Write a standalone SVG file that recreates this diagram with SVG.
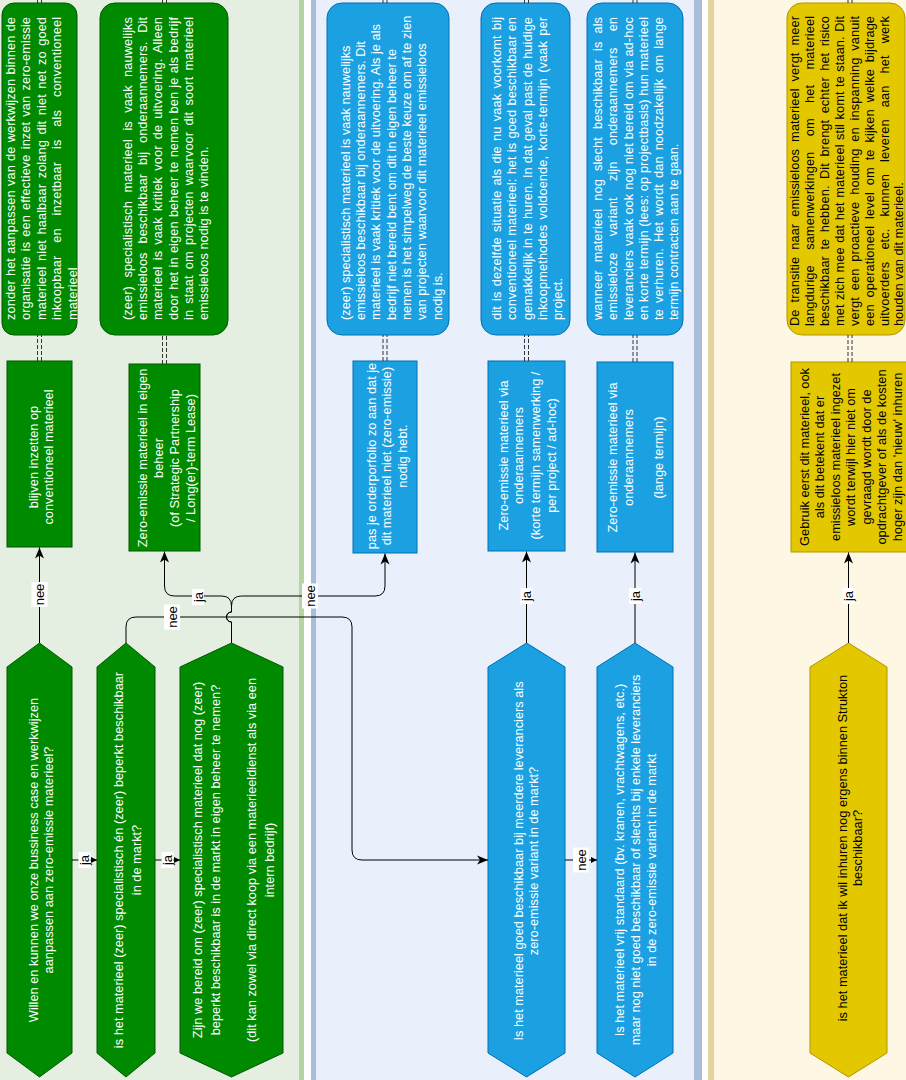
<svg xmlns="http://www.w3.org/2000/svg" width="906" height="1080" viewBox="0 0 906 1080">
<defs>
<style>
.t{font-family:"Liberation Sans",Arial,Helvetica,sans-serif;font-size:12.8px;dominant-baseline:central}
.w{fill:#fff}.k{fill:#000}.c{text-anchor:middle}.s{text-anchor:start}
.g{fill:#008a00;stroke:#005700;stroke-width:1}
.b{fill:#1ba1e2;stroke:#006eaf;stroke-width:1}
.y{fill:#e3c800;stroke:#b09500;stroke-width:1}
.e{fill:none;stroke:#000;stroke-width:1}
.d{fill:none;stroke:#333;stroke-width:1;stroke-dasharray:4 2}
.lb{fill:#fff}
.lt{font-family:"Liberation Sans",Arial,Helvetica,sans-serif;font-size:13px;fill:#000;text-anchor:middle;dominant-baseline:central}
</style>
<marker id="a" markerWidth="12" markerHeight="10" refX="11" refY="5" orient="auto" markerUnits="userSpaceOnUse"><path d="M0,0.5 L11,5 L0,9.5 L3,5 Z" fill="#000"/></marker>
<marker id="sa" markerWidth="7" markerHeight="7" refX="6" refY="3.5" orient="auto" markerUnits="userSpaceOnUse"><path d="M0,0.5 L6,3.5 L0,6.5 Z" fill="#000"/></marker>
</defs>

<g id="lanes">
<rect x="-1" y="-1" width="300" height="1082" fill="#e5efe1"/>
<rect x="299" y="-1" width="5" height="1082" fill="#b6d4a1"/>
<rect x="304" y="-1" width="7" height="1082" fill="#ffffff"/>
<rect x="311" y="-1" width="5" height="1082" fill="#a9bddb"/>
<rect x="316" y="-1" width="378" height="1082" fill="#e9f0fc"/>
<rect x="694" y="-1" width="8" height="1082" fill="#a9bddb"/>
<rect x="702" y="-1" width="6" height="1082" fill="#ffffff"/>
<rect x="708" y="-1" width="6" height="1082" fill="#e3d49c"/>
<rect x="714" y="-1" width="193" height="1082" fill="#fef7e4"/>
</g>

<g id="note1">
<rect class="g" x="2" y="3" width="75" height="332" rx="12"/>
<text class="t w s" transform="translate(10,320) rotate(-90)" textLength="303" lengthAdjust="spacing" style="word-spacing:0.5px">zonder het aanpassen van de werkwijzen binnen de</text>
<text class="t w s" transform="translate(25.5,320) rotate(-90)" textLength="303" lengthAdjust="spacing" style="word-spacing:1.5px">organisatie is een effectieve inzet van zero-emissie</text>
<text class="t w s" transform="translate(41,320) rotate(-90)" textLength="303" lengthAdjust="spacing" style="word-spacing:1.9px">materieel niet haalbaar zolang dit niet net zo goed</text>
<text class="t w s" transform="translate(56.5,320) rotate(-90)" textLength="303" lengthAdjust="spacing" style="word-spacing:9.3px">inkoopbaar en inzetbaar is als conventioneel</text>
<text class="t w s" transform="translate(72,320) rotate(-90)">materieel</text>
</g>

<g id="note2">
<rect class="g" x="100" y="3" width="128" height="332" rx="15"/>
<text class="t w s" transform="translate(127,320) rotate(-90)" textLength="303" lengthAdjust="spacing" style="word-spacing:4.8px">(zeer) specialistisch materieel is vaak nauwelijks</text>
<text class="t w s" transform="translate(142.5,320) rotate(-90)" textLength="303" lengthAdjust="spacing" style="word-spacing:5.3px">emissieloos beschikbaar bij onderaannemers. Dit</text>
<text class="t w s" transform="translate(157.5,320) rotate(-90)" textLength="303" lengthAdjust="spacing" style="word-spacing:2.5px">materieel is vaak kritiek voor de uitvoering. Alleen</text>
<text class="t w s" transform="translate(173,320) rotate(-90)" textLength="303" lengthAdjust="spacing" style="word-spacing:0.6px">door het in eigen beheer te nemen ben je als bedrijf</text>
<text class="t w s" transform="translate(188,320) rotate(-90)" textLength="303" lengthAdjust="spacing" style="word-spacing:2.6px">in staat om projecten waarvoor dit soort materieel</text>
<text class="t w s" transform="translate(203.5,320) rotate(-90)">emissieloos nodig is te vinden.</text>
</g>

<g id="note3">
<rect class="b" x="327" y="3" width="122" height="332" rx="15"/>
<text class="t w s" transform="translate(345,320) rotate(-90)">(zeer) specialistisch materieel is vaak nauwelijks</text>
<text class="t w s" transform="translate(360,320) rotate(-90)">emissieloos beschikbaar bij onderaannemers. Dit</text>
<text class="t w s" transform="translate(375.5,320) rotate(-90)">materieel is vaak kritiek voor de uitvoering. Als je als</text>
<text class="t w s" transform="translate(391,320) rotate(-90)">bedrijf niet bereid bent om dit in eigen beheer te</text>
<text class="t w s" transform="translate(406,320) rotate(-90)">nemen is het simpelweg de beste keuze om af te zien</text>
<text class="t w s" transform="translate(421.5,320) rotate(-90)">van projecten waarvoor dit materieel emissieloos</text>
<text class="t w s" transform="translate(437,320) rotate(-90)">nodig is.</text>
</g>

<g id="note4">
<rect class="b" x="481" y="3" width="89" height="332" rx="15"/>
<text class="t w s" transform="translate(496,320) rotate(-90)" textLength="303" lengthAdjust="spacing" style="word-spacing:1.6px">dit is dezelfde situatie als die nu vaak voorkomt bij</text>
<text class="t w s" transform="translate(511.5,320) rotate(-90)" textLength="303" lengthAdjust="spacing" style="word-spacing:0.5px">conventioneel materieel: het is goed beschikbaar en</text>
<text class="t w s" transform="translate(527,320) rotate(-90)" textLength="303" lengthAdjust="spacing" style="word-spacing:0.4px">gemakkelijk in te huren. In dat geval past de huidige</text>
<text class="t w s" transform="translate(542,320) rotate(-90)" textLength="303" lengthAdjust="spacing" style="word-spacing:1.7px">inkoopmethodes voldoende, korte-termijn (vaak per</text>
<text class="t w s" transform="translate(557,320) rotate(-90)">project.</text>
</g>

<g id="note5">
<rect class="b" x="587" y="3" width="96" height="332" rx="15"/>
<text class="t w s" transform="translate(597,320) rotate(-90)" textLength="303" lengthAdjust="spacing" style="word-spacing:4.4px">wanneer materieel nog slecht beschikbaar is als</text>
<text class="t w s" transform="translate(612.5,320) rotate(-90)" textLength="303" lengthAdjust="spacing" style="word-spacing:12.7px">emissieloze variant zijn onderaannemers en</text>
<text class="t w s" transform="translate(628,320) rotate(-90)" textLength="303" lengthAdjust="spacing" style="word-spacing:0.3px">leveranciers vaak ook nog niet bereid om via ad-hoc</text>
<text class="t w s" transform="translate(643,320) rotate(-90)" textLength="303" lengthAdjust="spacing">en korte termijn (lees: op projectbasis) hun materieel</text>
<text class="t w s" transform="translate(658.5,320) rotate(-90)" textLength="303" lengthAdjust="spacing" style="word-spacing:2.4px">te verhuren. Het wordt dan noodzakelijk om lange</text>
<text class="t w s" transform="translate(673,320) rotate(-90)">termijn contracten aan te gaan.</text>
</g>

<g id="note6">
<rect class="y" x="787" y="3" width="118" height="332" rx="15"/>
<text class="t k s" transform="translate(794,326) rotate(-90)" textLength="310" lengthAdjust="spacing" style="word-spacing:3.4px">De transitie naar emissieloos materieel vergt meer</text>
<text class="t k s" transform="translate(809,326) rotate(-90)" textLength="310" lengthAdjust="spacing" style="word-spacing:11.7px">langdurige samenwerkingen om het materieel</text>
<text class="t k s" transform="translate(824,326) rotate(-90)" textLength="310" lengthAdjust="spacing" style="word-spacing:2.8px">beschikbaar te hebben. Dit brengt echter het risico</text>
<text class="t k s" transform="translate(839,326) rotate(-90)" textLength="310" lengthAdjust="spacing" style="word-spacing:0.8px">met zich mee dat het materieel stil komt te staan. Dit</text>
<text class="t k s" transform="translate(854,326) rotate(-90)" textLength="310" lengthAdjust="spacing" style="word-spacing:3.2px">vergt een proactieve houding en inspanning vanuit</text>
<text class="t k s" transform="translate(869,326) rotate(-90)" textLength="310" lengthAdjust="spacing" style="word-spacing:3.3px">een operationeel level om te kijken welke bijdrage</text>
<text class="t k s" transform="translate(884,326) rotate(-90)" textLength="310" lengthAdjust="spacing" style="word-spacing:8.4px">uitvoerders etc. kunnen leveren aan het werk</text>
<text class="t k s" transform="translate(898.5,326) rotate(-90)">houden van dit materieel.</text>
</g>

<g id="rect-conventioneel">
<rect class="g" x="7" y="361" width="65" height="186"/>
<text class="t w c" transform="translate(33,457) rotate(-90)">blijven inzetten op</text>
<text class="t w c" transform="translate(48,457) rotate(-90)">conventioneel materieel</text>
</g>

<g id="rect-eigen-beheer">
<rect class="g" x="129" y="364" width="71" height="187"/>
<text class="t w c" transform="translate(142,458) rotate(-90)">Zero-emissie materieel in eigen</text>
<text class="t w c" transform="translate(158,458) rotate(-90)">beheer</text>
<text class="t w c" transform="translate(174,458) rotate(-90)">(of Strategic Partnership</text>
<text class="t w c" transform="translate(190,458) rotate(-90)">/ Long(er)-term Lease)</text>
</g>

<g id="rect-orderportfolio">
<rect class="b" x="353" y="361" width="64" height="192"/>
<text class="t w c" transform="translate(371,456) rotate(-90)">pas je orderporfolio zo aan dat je</text>
<text class="t w c" transform="translate(386.5,456) rotate(-90)">dit materieel niet (zero-emissie)</text>
<text class="t w c" transform="translate(402,456) rotate(-90)">nodig hebt.</text>
</g>

<g id="rect-onderaannemers-kort">
<rect class="b" x="488" y="361" width="77" height="190"/>
<text class="t w c" transform="translate(503,455.5) rotate(-90)">Zero-emissie materieel via</text>
<text class="t w c" transform="translate(518.5,455.5) rotate(-90)">onderaannemers</text>
<text class="t w c" transform="translate(535,455.5) rotate(-90)">(korte termijn samenwerking /</text>
<text class="t w c" transform="translate(551,455.5) rotate(-90)">per project / ad-hoc)</text>
</g>

<g id="rect-onderaannemers-lang">
<rect class="b" x="597" y="362" width="76" height="190"/>
<text class="t w c" transform="translate(612,457.5) rotate(-90)">Zero-emissie materieel via</text>
<text class="t w c" transform="translate(628,457.5) rotate(-90)">onderaannemers</text>
<text class="t w c" transform="translate(658,457.5) rotate(-90)">(lange termijn)</text>
</g>

<g id="rect-gebruik-eerst">
<rect class="y" x="791" y="362" width="120" height="190"/>
<text class="t k c" transform="translate(804,457) rotate(-90)">Gebruik eerst dit materieel, ook</text>
<text class="t k c" transform="translate(819.5,457) rotate(-90)">als dit betekent dat er</text>
<text class="t k c" transform="translate(835,457) rotate(-90)">emissieloos materieel ingezet</text>
<text class="t k c" transform="translate(850.5,457) rotate(-90)">wordt terwijl hier niet om</text>
<text class="t k c" transform="translate(866,457) rotate(-90)">gevraagd wordt door de</text>
<text class="t k c" transform="translate(881.5,457) rotate(-90)">opdrachtgever of als de kosten</text>
<text class="t k c" transform="translate(897,457) rotate(-90)">hoger zijn dan 'nieuw' inhuren</text>
</g>

<g id="hex-willen">
<polygon class="g" points="39.5,643 72,667 72,1053 39.5,1077 7,1053 7,667"/>
<text class="t w c" transform="translate(33,860) rotate(-90)">Willen en kunnen we onze bussiness case en werkwijzen</text>
<text class="t w c" transform="translate(48,860) rotate(-90)">aanpassen aan zero-emissie materieel?</text>
</g>

<g id="hex-specialistisch">
<polygon class="g" points="126,643 155,667 155,1053 126,1077 97,1053 97,667"/>
<text class="t w c" transform="translate(118,860) rotate(-90)">is het materieel (zeer) specialistisch én (zeer) beperkt beschikbaar</text>
<text class="t w c" transform="translate(136,860) rotate(-90)">in de markt?</text>
</g>

<g id="hex-bereid">
<polygon class="g" points="231.5,643 283,667 283,1053 231.5,1077 180,1053 180,667"/>
<text class="t w c" transform="translate(197,860) rotate(-90)">Zijn we bereid om (zeer) specialistisch materieel dat nog (zeer)</text>
<text class="t w c" transform="translate(215,860) rotate(-90)">beperkt beschikbaar is in de markt in eigen beheer te nemen?</text>
<text class="t w c" transform="translate(251,860) rotate(-90)">(dit kan zowel via direct koop via een materieeldienst als via een</text>
<text class="t w c" transform="translate(269,860) rotate(-90)">intern bedrijf)</text>
</g>

<g id="hex-meerdere">
<polygon class="b" points="526.5,643 565,667 565,1053 526.5,1077 488,1053 488,667"/>
<text class="t w c" transform="translate(518,861) rotate(-90)">Is het materieel goed beschikbaar bij meerdere leveranciers als</text>
<text class="t w c" transform="translate(533,861) rotate(-90)">zero-emissie variant in de markt?</text>
</g>

<g id="hex-standaard">
<polygon class="b" points="635,643 673,667 673,1053 635,1077 597,1053 597,667"/>
<text class="t w c" transform="translate(619,860) rotate(-90)">Is het materieel vrij standaard (bv. kranen, vrachtwagens, etc.)</text>
<text class="t w c" transform="translate(635,860) rotate(-90)">maar nog niet goed beschikbaar of slechts bij enkele leveranciers</text>
<text class="t w c" transform="translate(651,860) rotate(-90)">in de zero-emissie variant in de markt</text>
</g>

<g id="hex-strukton">
<polygon class="y" points="848.5,643 887,667 887,1053 848.5,1077 810,1053 810,667"/>
<text class="t k c" transform="translate(842,848) rotate(-90)">is het materieel dat ik wil inhuren nog ergens binnen Strukton</text>
<text class="t k c" transform="translate(857,848) rotate(-90)">beschikbaar?</text>
</g>

<g id="connectors">
<path class="d" d="M37.5,361 V335 M41.5,361 V335 M37.5,3 V-5 M41.5,3 V-5"/>
<path class="d" d="M162.5,364 V335 M166.5,364 V335 M162.5,3 V-5 M166.5,3 V-5"/>
<path class="d" d="M383,361 V335 M387,361 V335 M383,3 V-5 M387,3 V-5"/>
<path class="d" d="M524.5,361 V335 M528.5,361 V335 M524.5,3 V-5 M528.5,3 V-5"/>
<path class="d" d="M633,362 V335 M637,362 V335 M633,3 V-5 M637,3 V-5"/>
<path class="d" d="M848,362 V335 M852,362 V335 M848,3 V-5 M852,3 V-5"/>

<path class="e" marker-end="url(#a)" d="M39.5,643 L39.5,547.5"/>
<path class="e" marker-end="url(#sa)" d="M72,860 L97,860"/>
<path class="e" marker-end="url(#sa)" d="M155,860 L180,860"/>
<path class="e" marker-end="url(#a)" d="M126,643 L126,627 Q126,617 136,617 L342,617 Q352,617 352,627 L352,850 Q352,860 362,860 L488,860"/>
<path class="e" marker-end="url(#a)" d="M231.5,643 L231.5,622 A5,5 0 0 1 231.5,612 L231.5,606 Q231.5,596 221.5,596 L174.5,596 Q164.5,596 164.5,586 L164.5,551.5"/>
<path class="e" marker-end="url(#a)" d="M231.5,643 L231.5,622 A5,5 0 0 1 231.5,612 L231.5,606 Q231.5,596 241.5,596 L375,596 Q385,596 385,586 L385,553.5"/>
<path class="e" marker-end="url(#a)" d="M526.5,643 L526.5,551.5"/>
<path class="e" marker-end="url(#sa)" d="M565,860 L597,860"/>
<path class="e" marker-end="url(#a)" d="M635,643 L635,552.5"/>
<path class="e" marker-end="url(#a)" d="M848.5,643 L848.5,552.5"/>

<rect class="lb" x="31.5" y="582" width="16" height="25"/>
<text class="lt" transform="translate(39.5,594.5) rotate(-90)">nee</text>
<rect class="lb" x="78.5" y="852" width="12" height="16"/>
<text class="lt" transform="translate(84.5,860) rotate(-90)">ja</text>
<rect class="lb" x="161.5" y="852" width="12" height="16"/>
<text class="lt" transform="translate(167.5,860) rotate(-90)">ja</text>
<rect class="lb" x="164" y="604.5" width="16" height="25"/>
<text class="lt" transform="translate(172,617) rotate(-90)">nee</text>
<rect class="lb" x="192" y="589" width="12" height="16"/>
<text class="lt" transform="translate(198,597) rotate(-90)">ja</text>
<rect class="lb" x="302" y="583.5" width="16" height="25"/>
<text class="lt" transform="translate(310,596) rotate(-90)">nee</text>
<rect class="lb" x="520.5" y="588" width="12" height="16"/>
<text class="lt" transform="translate(526.5,596) rotate(-90)">ja</text>
<rect class="lb" x="629" y="588" width="12" height="16"/>
<text class="lt" transform="translate(635,596) rotate(-90)">ja</text>
<rect class="lb" x="573" y="847.5" width="16" height="25"/>
<text class="lt" transform="translate(581,860) rotate(-90)">nee</text>
<rect class="lb" x="842.5" y="588" width="12" height="16"/>
<text class="lt" transform="translate(848.5,596) rotate(-90)">ja</text>
</g>
</svg>
